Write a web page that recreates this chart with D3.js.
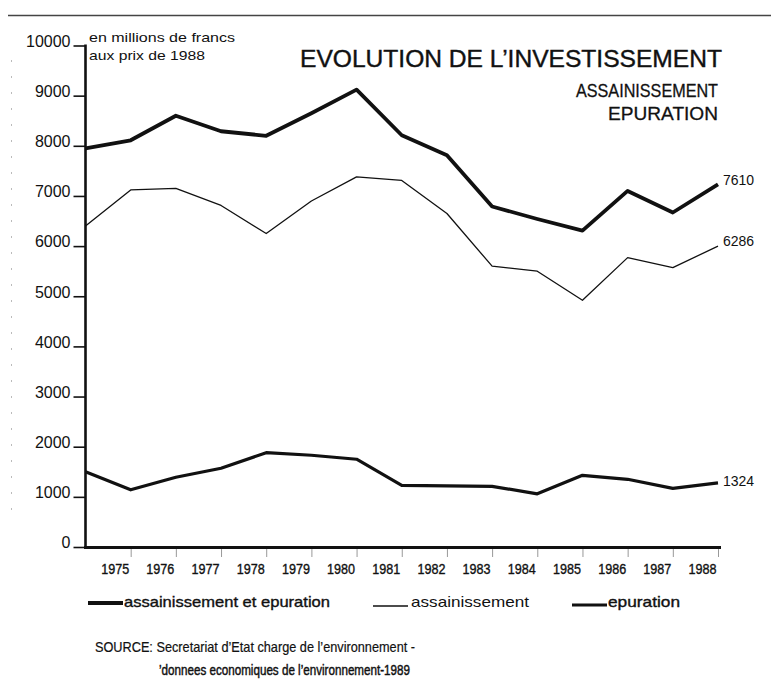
<!DOCTYPE html>
<html>
<head>
<meta charset="utf-8">
<script src="https://cdn.jsdelivr.net/npm/d3@7"></script>
<style>
  html, body { margin: 0; padding: 0; background: #fff; }
  svg { display: block; }
  text { font-family: "Liberation Sans", Arial, sans-serif; fill: #111; }
</style>
</head>
<body>
<script>
// ---- Data ----
const years = [1974, 1975, 1976, 1977, 1978, 1979, 1980, 1981, 1982, 1983, 1984, 1985, 1986, 1987, 1988];
const yearLabels = ["1975", "1976", "1977", "1978", "1979", "1980", "1981", "1982", "1983", "1984", "1985", "1986", "1987", "1988"];
const totalValues = [7950, 8110, 8600, 8290, 8200, 8650, 9120, 8210, 7810, 6790, 6540, 6310, 7100, 6670, 7230];
const assainissementValues = [6400, 7120, 7150, 6810, 6250, 6900, 7380, 7310, 6650, 5600, 5500, 4920, 5770, 5570, 6000];
const epurationValues = [1500, 1140, 1390, 1570, 1880, 1830, 1750, 1230, 1220, 1210, 1060, 1430, 1350, 1170, 1280];
const endLabels = ["7610", "6286", "1324"];
const yTicks = [0, 1000, 2000, 3000, 4000, 5000, 6000, 7000, 8000, 9000, 10000];
const legendLabels = ["assainissement et epuration", "assainissement", "epuration"];

const W = 771, H = 687;
const svg = d3.select("body").append("svg").attr("width", W).attr("height", H);

// scales
const x = d3.scalePoint().domain(years).range([85.5, 718]);
const y = d3.scaleLinear().domain([0, 10000]).range([547, 45.5]);

// top rule
svg.append("line").attr("x1", 8).attr("x2", 771).attr("y1", 15.5).attr("y2", 15.5)
  .attr("stroke", "#444").attr("stroke-width", 1.5);
// faint scan marks at left edge
svg.append("line").attr("x1", 11.5).attr("x2", 11.5).attr("y1", 60).attr("y2", 520)
  .attr("stroke", "#bbb").attr("stroke-width", 1).attr("stroke-dasharray", "2,14");

// y axis
const yAxis = d3.axisLeft(y).tickValues(yTicks).tickSize(12).tickPadding(3)
  .tickFormat(d => String(d));
const gy = svg.append("g").attr("transform", "translate(85.5,0)").call(yAxis);
gy.select(".domain").remove();
gy.selectAll(".tick line").attr("stroke", "#111").attr("stroke-width", 1.6);
gy.selectAll(".tick text").attr("dy", "0.05em").attr("font-size", 16)
  .attr("font-family", "Liberation Sans, Arial, sans-serif").attr("fill", "#111");
svg.append("line").attr("x1", 85.5).attr("x2", 85.5).attr("y1", y(10000) - 1).attr("y2", 548.5)
  .attr("stroke", "#111").attr("stroke-width", 2.6);

// x axis
const xAxis = d3.axisBottom(x).tickValues(years.slice(1)).tickSize(9).tickPadding(4)
  .tickFormat((d, i) => yearLabels[i]);
const gx = svg.append("g").attr("transform", "translate(0,548)").call(xAxis);
gx.select(".domain").remove();
gx.selectAll(".tick line").attr("stroke", "#999").attr("stroke-width", 1);
gx.selectAll(".tick text").attr("text-anchor", "end").attr("x", -2).attr("dy", "0.95em")
  .attr("font-size", 14).attr("font-family", "Liberation Sans, Arial, sans-serif")
  .attr("fill", "#111").attr("stroke", "#111").attr("stroke-width", 0.35)
  .attr("textLength", 28).attr("lengthAdjust", "spacingAndGlyphs");
svg.append("line").attr("x1", 84).attr("x2", 721).attr("y1", 547.5).attr("y2", 547.5)
  .attr("stroke", "#111").attr("stroke-width", 3);

// lines
const line = d3.line().x((d, i) => x(years[i])).y(d => y(d));
svg.append("path").datum(totalValues).attr("d", line).attr("fill", "none")
  .attr("stroke", "#111").attr("stroke-width", 3.8).attr("stroke-linejoin", "round");
svg.append("path").datum(assainissementValues).attr("d", line).attr("fill", "none")
  .attr("stroke", "#111").attr("stroke-width", 1.3).attr("stroke-linejoin", "round");
svg.append("path").datum(epurationValues).attr("d", line).attr("fill", "none")
  .attr("stroke", "#111").attr("stroke-width", 3.2).attr("stroke-linejoin", "round");

// end labels
const ends = [totalValues, assainissementValues, epurationValues];
const endDy = [1, 0, 3];
ends.forEach((vals, k) => {
  svg.append("text").attr("x", 723).attr("y", y(vals[vals.length - 1]) + endDy[k])
    .attr("font-size", 14).text(endLabels[k]);
});

// units label
svg.append("text").attr("x", 89).attr("y", 42).attr("font-size", 13)
  .attr("textLength", 146).attr("lengthAdjust", "spacingAndGlyphs").text("en millions de francs");
svg.append("text").attr("x", 89).attr("y", 60).attr("font-size", 13)
  .attr("textLength", 116).attr("lengthAdjust", "spacingAndGlyphs").text("aux prix de 1988");

// titles
svg.append("text").attr("x", 300).attr("y", 67).attr("font-size", 24)
  .attr("stroke", "#111").attr("stroke-width", 0.4)
  .attr("textLength", 422).attr("lengthAdjust", "spacingAndGlyphs").text("EVOLUTION DE L\u2019INVESTISSEMENT");
svg.append("text").attr("x", 718).attr("y", 97).attr("text-anchor", "end").attr("font-size", 19)
  .attr("stroke", "#111").attr("stroke-width", 0.3)
  .attr("textLength", 142).attr("lengthAdjust", "spacingAndGlyphs").text("ASSAINISSEMENT");
svg.append("text").attr("x", 718).attr("y", 120).attr("text-anchor", "end").attr("font-size", 19)
  .attr("stroke", "#111").attr("stroke-width", 0.3)
  .attr("textLength", 110).attr("lengthAdjust", "spacingAndGlyphs").text("EPURATION");

// legend
const legend = [
  {x1: 88, x2: 123, y: 603, w: 4, tx: 124, tl: 206},
  {x1: 373, x2: 408, y: 606, w: 1.3, tx: 411, tl: 118},
  {x1: 572, x2: 607, y: 605, w: 3, tx: 608, tl: 72}
];
legend.forEach((l, i) => {
  svg.append("line").attr("x1", l.x1).attr("x2", l.x2).attr("y1", l.y).attr("y2", l.y)
    .attr("stroke", "#111").attr("stroke-width", l.w);
  svg.append("text").attr("x", l.tx).attr("y", 607).attr("font-size", 14.5)
    .attr("stroke", "#111").attr("stroke-width", i === 1 ? 0 : 0.35)
    .attr("textLength", l.tl).attr("lengthAdjust", "spacingAndGlyphs").text(legendLabels[i]);
});

// source
svg.append("text").attr("x", 95).attr("y", 652).attr("font-size", 14.5)
  .attr("stroke", "#111").attr("stroke-width", 0.2)
  .attr("textLength", 320).attr("lengthAdjust", "spacingAndGlyphs")
  .text("SOURCE: Secretariat d\u2019Etat charge de l\u2019environnement -");
svg.append("text").attr("x", 159).attr("y", 675).attr("font-size", 14.5)
  .attr("stroke", "#111").attr("stroke-width", 0.45)
  .attr("textLength", 251).attr("lengthAdjust", "spacingAndGlyphs")
  .text("\u2019donnees economiques de l\u2019environnement-1989");
</script>
</body>
</html>
